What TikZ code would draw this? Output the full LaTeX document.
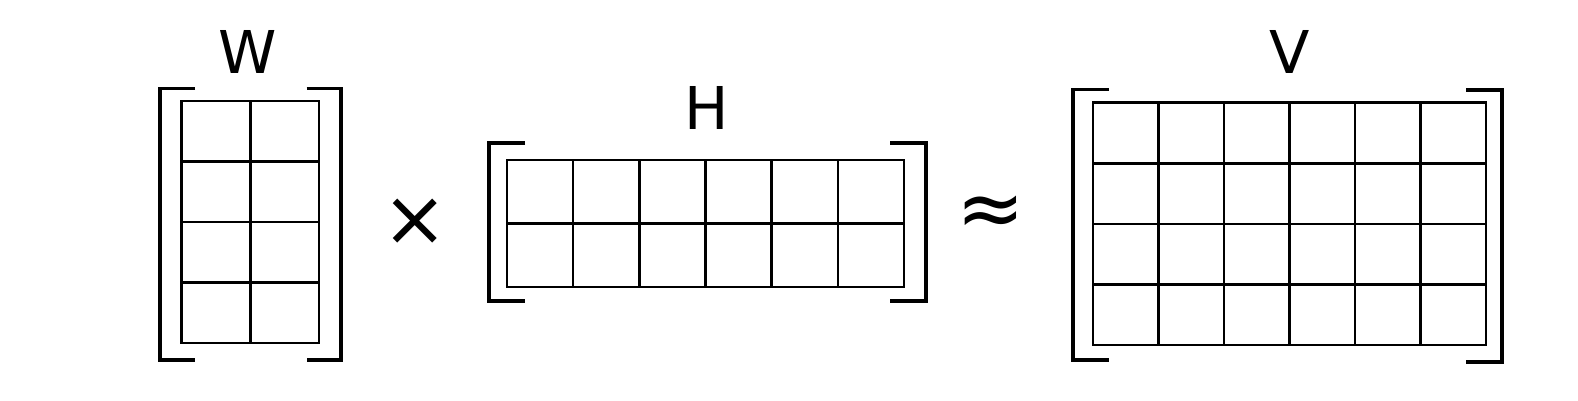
\documentclass[tikz,border=0pt]{standalone}
\usepackage{fontspec}
\setmainfont{DejaVu Sans}
\begin{document}
\begin{tikzpicture}[x=1pt,y=-1pt,
  gridline/.style={line width=2.5pt,black,line cap=rect},
  brk/.style={line width=3.6pt,black},
  lbl/.style={inner sep=0pt,font=\fontsize{59}{60}\selectfont},
  timessym/.style={inner sep=0pt,font=\fontsize{78}{78}\selectfont},
  approxsym/.style={inner sep=0pt,font=\fontsize{82}{82}\selectfont}]
\useasboundingbox (0,0) rectangle (1578,400);
% ---- W (4x2) ----
\foreach \i in {0,...,2} \draw[gridline] ({181.7+\i*68.65},101) -- ({181.7+\i*68.65},343);
\foreach \j in {0,...,4} \draw[gridline] (181.7,{101+\j*60.5}) -- (319,{101+\j*60.5});
\draw[brk] (195,88.3) -- (160,88.3) -- (160,360) -- (195,360);
\draw[brk] (306.7,88.3) -- (341,88.3) -- (341,360) -- (306.7,360);
\node[lbl] (w) at (248,52) {W};
% ---- times ----
\node[timessym] (times) at (415,222) {×};
% ---- H (2x6) ----
\foreach \i in {0,...,6} \draw[gridline] ({507+\i*66.17},160) -- ({507+\i*66.17},287);
\foreach \j in {0,...,2} \draw[gridline] (507,{160+\j*63.5}) -- (904,{160+\j*63.5});
\draw[brk] (525,143) -- (489,143) -- (489,301) -- (525,301);
\draw[brk] (890,143) -- (925.7,143) -- (925.7,301) -- (890,301);
\node[lbl] (h) at (707,108) {H};
% ---- approx ----
\node[approxsym] (approx) at (991,216) {≈};
% ---- V (4x6) ----
\foreach \i in {0,...,6} \draw[gridline] ({1093+\i*65.5},102.7) -- ({1093+\i*65.5},345);
\foreach \j in {0,...,4} \draw[gridline] (1093,{102.7+\j*60.575}) -- (1486,{102.7+\j*60.575});
\draw[brk] (1109,89.3) -- (1073,89.3) -- (1073,360) -- (1109,360);
\draw[brk] (1466,90) -- (1501.7,90) -- (1501.7,361.7) -- (1466,361.7);
\node[lbl] (v) at (1290,52) {V};
\end{tikzpicture}
\end{document}
